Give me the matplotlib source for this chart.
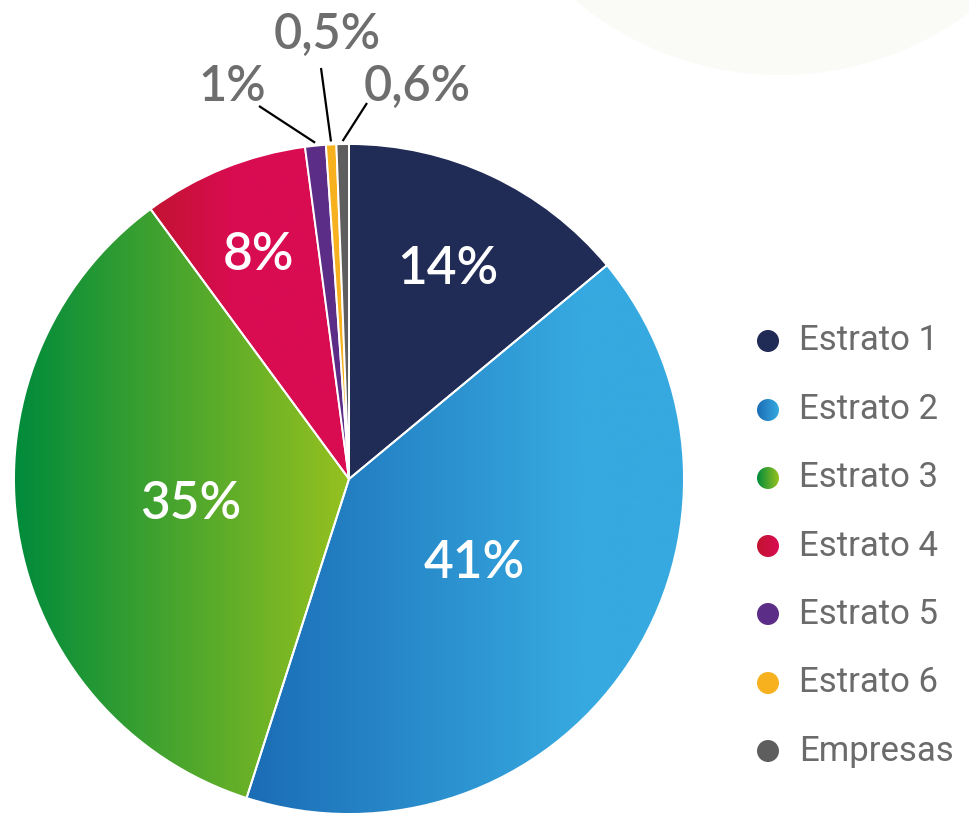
import numpy as np
import matplotlib
matplotlib.use("Agg")
import matplotlib.pyplot as plt
from matplotlib.colors import to_rgb
from matplotlib.patches import Circle

W, H = 970, 819

labels = ['Estrato 1', 'Estrato 2', 'Estrato 3', 'Estrato 4', 'Estrato 5', 'Estrato 6', 'Empresas']
shares = [14, 41, 35, 8, 1, 0.5, 0.6]
pct_text = ['14%', '41%', '35%', '8%', '1%', '0,5%', '0,6%']
# left / right colour of the horizontal gradient in each slice
col_left = ['#202b56', '#1b6cb5', '#008b3b', '#c1142f', '#5c2d87', '#f7b11e', '#5e5e5e']
col_right = ['#202b56', '#36a9e0', '#96c11f', '#d90c52', '#5c2d87', '#f7b11e', '#5e5e5e']
# x range (pixels) over which the gradient runs
grad_x = [None, (245, 580), (14, 349), (145, 235), None, None, None]


def py(y):
    # picture rows -> axes y
    return H - y


def gradient_fill(ax, patch, c0, c1, x0, x1, xmin, xmax, ymin, ymax):
    xs = np.linspace(xmin, xmax, 400)
    t = np.clip((xs - x0) / (x1 - x0), 0, 1)[:, None]
    rgb = (1 - t) * np.array(to_rgb(c0)) + t * np.array(to_rgb(c1))
    im = ax.imshow(rgb[None, :, :], extent=[xmin, xmax, ymin, ymax], aspect='auto',
                   interpolation='bilinear', zorder=1, origin='lower')
    im.set_clip_path(patch)


fig = plt.figure(figsize=(W / 100, H / 100), dpi=100)
ax = fig.add_axes([0, 0, 1, 1])

# faint background shape
ax.add_patch(Circle((780, py(-243)), 318, facecolor='#fafaf7', edgecolor='none', zorder=0))

cx, cy, R = 349, py(479), 335
wedges, _ = ax.pie(shares, startangle=90, counterclock=False, center=(cx, cy), radius=R,
                   colors=col_left,
                   wedgeprops=dict(edgecolor='white', linewidth=1.4, zorder=2))

for i, w in enumerate(wedges):
    if grad_x[i] is not None:
        w.set_facecolor('none')
        gradient_fill(ax, w, col_left[i], col_right[i], grad_x[i][0], grad_x[i][1],
                      cx - R - 2, cx + R + 2, cy - R - 2, cy + R + 2)

pct_font = ['Lato', 'DejaVu Sans']
# labels inside the big slices
in_r = [0.69, 0.45, 0.48, 0.72]
for i, frac in enumerate(in_r):
    w = wedges[i]
    ang = np.deg2rad((w.theta1 + w.theta2) / 2)
    ax.text(cx + frac * R * np.cos(ang), cy + frac * R * np.sin(ang), pct_text[i],
            color='white', fontsize=37, family=pct_font, fontweight='semibold',
            ha='center', va='center', zorder=5)

# small slices: outside labels with leader lines
out_pos = [(232, 87), (327, 35), (417, 87)]
line_start = [(259, 106), (321, 68), (367, 103)]
for k, i in enumerate([4, 5, 6]):
    w = wedges[i]
    ang = np.deg2rad((w.theta1 + w.theta2) / 2)
    ex, ey = cx + (R + 3) * np.cos(ang), cy + (R + 3) * np.sin(ang)
    sx, sy = line_start[k]
    ax.plot([sx, ex], [py(sy), ey], color='black', lw=1.6, zorder=4, solid_capstyle='butt')
    tx, ty = out_pos[k]
    ax.text(tx, py(ty), pct_text[i], color='#6e6e6e', fontsize=35, family=pct_font,
            fontweight='semibold', ha='center', va='center', zorder=5)

# legend
leg_y = [341, 410, 478, 546, 614, 683, 751]
for i, lab in enumerate(labels):
    y = py(leg_y[i])
    dot = Circle((768, y), 11, facecolor=col_left[i], edgecolor='none', zorder=2)
    ax.add_patch(dot)
    if grad_x[i] is not None:
        dot.set_facecolor('none')
        gradient_fill(ax, dot, col_left[i], col_right[i], 757, 779, 756, 780, y - 12, y + 12)
    ax.text(799, y, lab, color='#6b6b6b', fontsize=25,
            family=['Roboto', 'DejaVu Sans'],
            ha='left', va='center', zorder=5)

ax.set_xlim(0, W)
ax.set_ylim(0, H)
ax.set_aspect('equal')
ax.axis('off')

fig.savefig('out.png', dpi=100, facecolor='white')
